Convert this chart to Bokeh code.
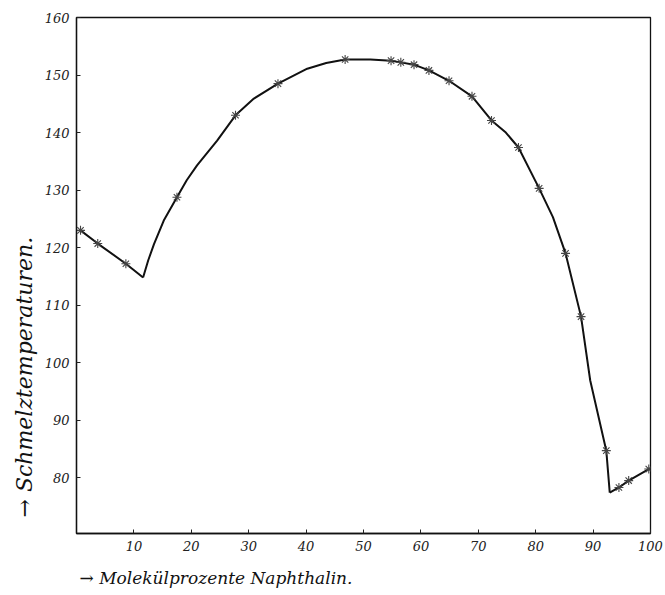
from bokeh.plotting import figure
from bokeh.models import FixedTicker, Range1d, Title
from bokeh.embed import file_html
from bokeh.resources import INLINE

# measured points (mol-% naphthalene, melting temperature)
left_x = [0.7, 3.7, 8.6]
left_y = [123.0, 120.7, 117.2]
right_x = [17.5, 27.7, 35.1, 46.8, 54.8, 56.5, 58.8, 61.4, 64.9, 68.9, 72.3,
           77.0, 80.6, 85.2, 87.9, 92.3]
right_y = [128.75, 143.0, 148.5, 152.7, 152.5, 152.2, 151.8, 150.8, 149.0,
           146.3, 142.1, 137.4, 130.3, 119.0, 108.0, 84.7]
tail_x = [94.5, 96.2, 99.7]
tail_y = [78.3, 79.5, 81.5]

# drawn curve
curve1_x = [0.7, 3.7, 8.6, 11.6]
curve1_y = [123.0, 120.7, 117.2, 114.8]
curve2_x = [11.6, 12.5, 13.5, 15.2, 17.5, 19.2, 21.0, 24.5, 27.7, 30.9, 35.1,
            40.2, 43.5, 46.8, 51.2, 54.8, 56.5, 58.8, 61.4, 64.9, 68.9, 72.3,
            74.8, 77.0, 80.6, 83.0, 85.2, 87.9, 89.5, 92.3, 92.9]
curve2_y = [114.8, 117.8, 120.6, 124.7, 128.75, 131.7, 134.3, 138.6, 143.0,
            145.9, 148.5, 151.1, 152.1, 152.7, 152.7, 152.5, 152.2, 151.8,
            150.8, 149.0, 146.3, 142.1, 140.0, 137.4, 130.3, 125.3, 119.0,
            108.0, 96.9, 84.7, 77.4]
curve3_x = [92.9, 94.5, 96.2, 99.7]
curve3_y = [77.4, 78.3, 79.5, 81.5]

x_ticks = [10, 20, 30, 40, 50, 60, 70, 80, 90, 100]
y_ticks = [80, 90, 100, 110, 120, 130, 140, 150, 160]

x_title = "\u2192 Molekülprozente Naphthalin."
y_title = "\u2192 Schmelztemperaturen."

FONT = "DejaVu Serif"

p = figure(frame_width=574, frame_height=516, width=665, height=595,
           x_range=Range1d(0, 100), y_range=Range1d(70.3, 160),
           output_backend="svg", toolbar_location=None,
           min_border_left=76, min_border_right=15, min_border_top=17,
           min_border_bottom=62)
p.xgrid.visible = False
p.ygrid.visible = False
p.outline_line_color = "#111111"
p.outline_line_width = 1.3
p.background_fill_color = "white"
p.border_fill_color = "white"

for ax, ticks in ((p.xaxis[0], x_ticks), (p.yaxis[0], y_ticks)):
    ax.ticker = FixedTicker(ticks=ticks)
    ax.minor_tick_line_color = None
    ax.major_tick_in = 4
    ax.major_tick_out = 0
    ax.major_tick_line_color = "#222222"
    ax.axis_line_color = "#111111"
    ax.axis_line_width = 1.3
    ax.major_label_text_font = FONT
    ax.major_label_text_font_style = "italic"
    ax.major_label_text_font_size = "13px"
    ax.major_label_text_color = "#222222"
    ax.major_label_standoff = 7

for cx, cy in ((curve1_x, curve1_y), (curve2_x, curve2_y), (curve3_x, curve3_y)):
    p.line(cx, cy, line_color="#111111", line_width=2)

for mx, my in ((left_x, left_y), (right_x, right_y), (tail_x, tail_y)):
    p.scatter(mx, my, marker="asterisk", size=9, line_color="#444444",
              line_width=1.1)

p.add_layout(Title(text=x_title, align="left", offset=3, standoff=24,
                   text_font=FONT, text_font_style="italic",
                   text_font_size="17px", text_color="#111111"), "below")
p.add_layout(Title(text=y_title, align="left", offset=16, standoff=10,
                   text_font=FONT, text_font_style="italic",
                   text_font_size="22px", text_color="#111111"), "left")

open("out.html", "w").write(file_html(p, INLINE))
